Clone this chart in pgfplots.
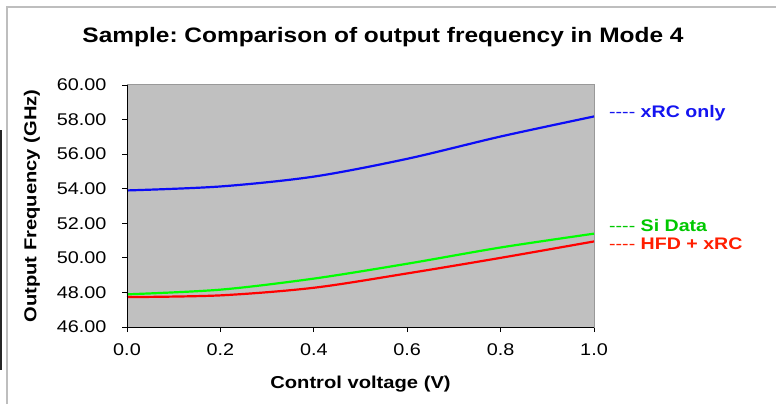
\documentclass[border=0pt]{standalone}
\usepackage{fontspec}
\setmainfont{Liberation Sans}[FakeStretch=1.17]
\usepackage{pgfplots}
\pgfplotsset{compat=1.18}
\frenchspacing
\definecolor{plotbg}{RGB}{192,192,192}
\definecolor{frameg}{RGB}{190,190,190}
\definecolor{lblue}{RGB}{20,20,240}
\definecolor{lgreen}{RGB}{0,200,0}
\definecolor{lred}{RGB}{255,30,0}
\newcommand{\dsh}{\mbox{-}\mbox{-}\mbox{-}\mbox{-}}
\begin{document}
\begin{tikzpicture}[x=1bp,y=1bp]
\useasboundingbox (0,0) rectangle (776,404);
\fill[white] (0,0) rectangle (776,404);
\draw[frameg, line width=2bp] (7,0) -- (7,397) -- (776,397);
\fill[black!85] (0,34) rectangle (2,274);
\node[font=\fontsize{21}{25}\selectfont\bfseries] at (383,367) {Sample: Comparison of output frequency in Mode 4};
\begin{axis}[
  at={(127bp,77bp)}, anchor=south west,
  scale only axis, width=467bp, height=242bp,
  xmin=0, xmax=1, ymin=46, ymax=60,
  xtick={0,0.2,0.4,0.6,0.8,1.0},
  ytick={46,48,...,60},
  axis background/.style={fill=plotbg},
  axis line style={draw=gray!80, line width=1bp},
  tick align=outside, tick pos=left,
  major tick length=5bp,
  tick style={black, line width=0.8bp},
  ticklabel style={font=\fontsize{17}{19}\selectfont},
  /pgf/number format/assume math mode=true,
  xticklabel={\pgfmathprintnumber[fixed,fixed zerofill,precision=1]{\tick}},
  yticklabel={\pgfmathprintnumber[fixed,fixed zerofill,precision=2]{\tick}},
  xticklabel style={yshift=-8bp},
  yticklabel style={xshift=-12bp},
  xlabel={\bfseries Control voltage (V)},
  ylabel={\bfseries Output Frequency (GHz)},
  label style={font=\fontsize{17.3}{20}\selectfont},
  xlabel style={at={(axis description cs:0.5,0)}, anchor=center, yshift=-57bp},
  ylabel style={at={(axis description cs:0,0.5)}, anchor=center, yshift=95bp},
  clip=false,
]
\addplot[lblue!60!blue, line width=2.2bp, smooth] coordinates {(0,53.9) (0.2,54.13) (0.4,54.7) (0.6,55.73) (0.8,57.02) (1.0,58.18)};
\addplot[green, line width=2.2bp, smooth] coordinates {(0,47.89) (0.2,48.16) (0.4,48.8) (0.6,49.66) (0.8,50.6) (1.0,51.4)};
\addplot[red, line width=2.2bp, smooth] coordinates {(0,47.73) (0.2,47.83) (0.4,48.27) (0.6,49.1) (0.8,50.0) (1.0,50.95)};
\draw[black, line width=1bp] (rel axis cs:0,1) -- (rel axis cs:0,0) -- (rel axis cs:1,0);
\end{axis}
\node[anchor=west, font=\fontsize{16.8}{19}\selectfont, text=lblue, inner sep=0] at (609,291) {\dsh\ \bfseries xRC only};
\node[anchor=west, font=\fontsize{16.8}{19}\selectfont, text=lgreen, inner sep=0] at (609,178) {\dsh\ \bfseries Si Data};
\node[anchor=west, font=\fontsize{16.8}{19}\selectfont, text=lred, inner sep=0] at (609,160) {\dsh\ \bfseries HFD + xRC};
\end{tikzpicture}
\end{document}
